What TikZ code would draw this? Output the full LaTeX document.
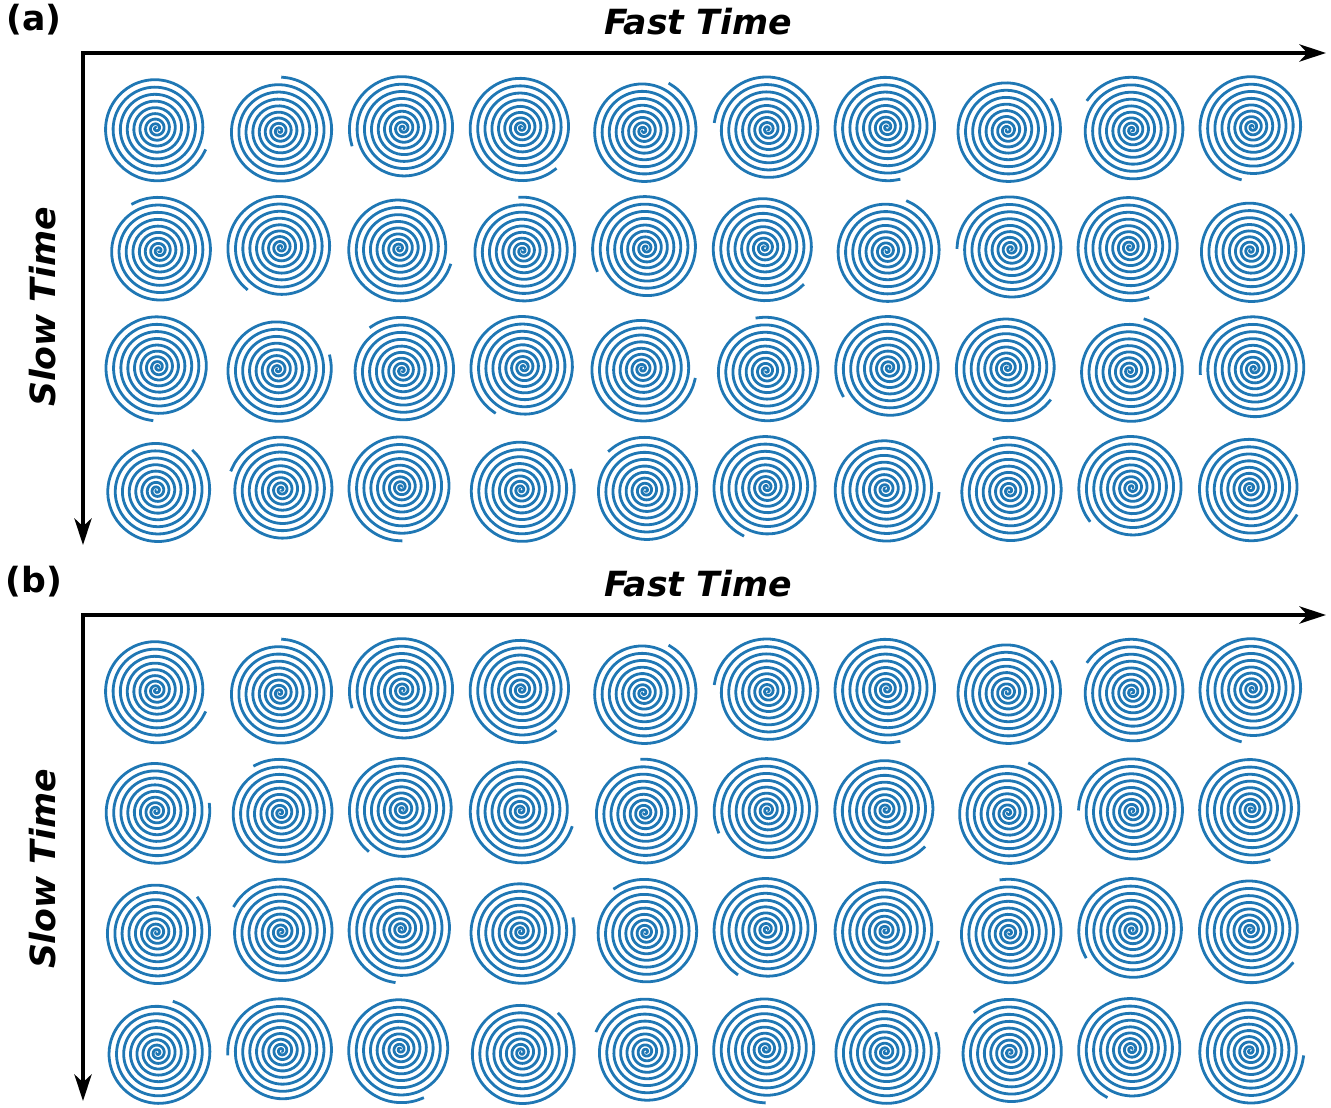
\documentclass[tikz,border=0pt]{standalone}
\usepackage{fontspec}
\setmainfont{DejaVu Sans}
\usepackage{tikz}
\usetikzlibrary{arrows.meta}
\definecolor{spiralblue}{HTML}{1F77B4}

\begin{document}
\begin{tikzpicture}[x=0.75pt, y=0.75pt, every node/.style={font=\fontsize{26}{31}\selectfont\bfseries, inner sep=0pt},
	>={Stealth[length=20pt, width=13pt, inset=6pt]},
	axis/.style={line width=2.4pt},
	spiral/.style={spiralblue, line width=2.1pt}]
	\useasboundingbox (0,0) rectangle (1331,1107);
	\foreach \p/\dy/\drow/\tip in {a/0/144/562, b/-562/32.2/568} {
		\begin{scope}[shift={(0,\dy)}]
			\node (lab\p) at (34,1087) {(\p)};
			\node (fast\p) at (698,1085) {\itshape Fast Time};
			\node[rotate=90] (slow\p) at (43,800) {\itshape Slow Time};
			\coordinate (orig\p) at (83,1054);
			\coordinate (fastend\p) at (1326,1054);
			\coordinate (slowend\p) at (83,\tip);
			\draw[<->, axis] (slowend\p) -- (orig\p) -- (fastend\p);
			\foreach \i in {0,...,9}
				\foreach \j in {0,...,3} {
					\pgfmathsetmacro\ang{-19.5+111.3*\i+\drow*\j}
					\draw[spiral, shift={({158+121.55*\i-2*cos(\ang)},{978-120*\j-2*sin(\ang)})}]
						plot[domain=0.025:1, samples=330, smooth, variable=\t] ({\ang-(1-\t)*3240}:{54*\t^1.3});
				}
		\end{scope}
	}
\end{tikzpicture}
\end{document}
